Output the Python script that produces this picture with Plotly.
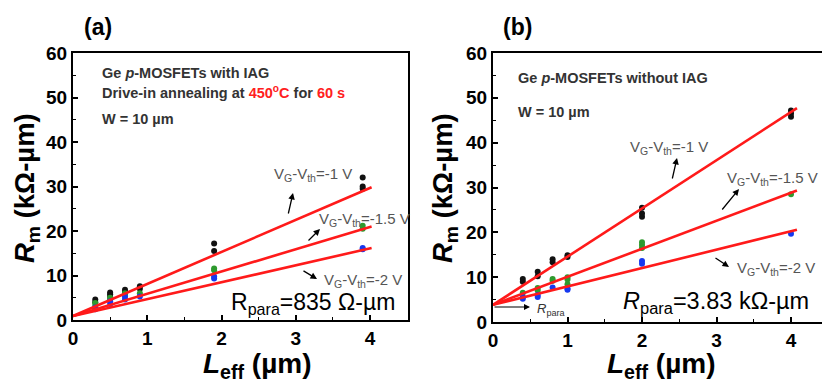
import plotly.graph_objects as go

W, H = 822, 383

# ---------------- data ----------------
# panel (a): with IAG
a_leff = [0.3, 0.5, 0.7, 0.9, 1.9, 3.9]
a_vm1 = [[4.0, 4.6], [5.2, 5.8, 6.2], [6.2, 6.8], [7.0, 7.6], [15.5, 17.2], [29.5, 30.0, 32.0]]
a_vm15 = [[3.2, 3.8], [4.6, 5.0], [5.6, 6.0], [6.0], [11.2, 11.6], [20.5, 21.2]]
a_vm2 = [[2.4, 2.8], [3.6, 4.2], [4.6, 5.2], [5.3], [9.3, 9.8], [15.9, 16.2]]
a_fit_x = [0.0, 4.02]
a_intercept = 0.9
a_slopes = [7.2, 5.0, 3.8]

# panel (b): without IAG
b_leff = [0.4, 0.6, 0.8, 1.0, 2.0, 4.0]
b_vm1 = [[9.0, 9.6], [10.2, 11.2], [13.3, 14.0], [14.5, 14.9], [23.5, 24.2, 25.5], [45.8, 46.5, 47.2]]
b_vm15 = [[6.5], [7.0, 7.6], [9.2, 9.6], [8.4, 9.5, 10.0], [16.5, 17.2, 17.8], [28.5]]
b_vm2 = [[5.2, 5.6], [5.6, 6.0], [7.7], [7.2, 7.5], [13.0, 13.6], [19.7]]
b_fit_x = [0.0, 4.08]
b_intercept = 3.83
b_slopes = [10.75, 6.25, 4.1]

series_colors = ["#111111", "#2e9a2e", "#1638f0"]
line_color = "#ff1a1a"

fig = go.Figure()


def flat(xs, groups):
    X, Y = [], []
    for x, g in zip(xs, groups):
        for y in g:
            X.append(x)
            Y.append(y)
    return X, Y


def add_panel(xs, groups, fit_x, b0, slopes, xa, ya):
    for g, c in zip(groups, series_colors):
        X, Y = flat(xs, g)
        fig.add_trace(go.Scatter(x=X, y=Y, mode="markers", xaxis=xa, yaxis=ya,
                                 marker=dict(color=c, size=6), showlegend=False))
    for s in slopes:
        fig.add_trace(go.Scatter(x=fit_x, y=[b0 + s * x for x in fit_x], mode="lines",
                                 xaxis=xa, yaxis=ya, line=dict(color=line_color, width=2.6),
                                 showlegend=False))


add_panel(a_leff, [a_vm1, a_vm15, a_vm2], a_fit_x, a_intercept, a_slopes, "x", "y")
add_panel(b_leff, [b_vm1, b_vm15, b_vm2], b_fit_x, b_intercept, b_slopes, "x2", "y2")

tickfont = dict(family="Arial, Liberation Sans", size=19, color="black", weight="bold")


def axis(domain, rng, tickvals, mdt, mirror, anchor):
    return dict(domain=domain, range=rng, tickvals=tickvals, automargin=False,
                showline=True, linecolor="black", linewidth=2, ticks="inside", ticklen=5,
                tickwidth=1.5, tickcolor="black", tickfont=tickfont, showgrid=False,
                zeroline=False, mirror=mirror, anchor=anchor,
                minor=dict(ticks="inside", ticklen=3, tickwidth=1.2, tickcolor="black",
                           dtick=mdt, showgrid=False))


y_dom = [(H - 320) / H, (H - 53) / H]
y2_dom = [(H - 322) / H, (H - 53) / H]

fig.update_layout(
    width=W, height=H, margin=dict(l=0, r=0, t=0, b=0, pad=0), autosize=False,
    paper_bgcolor="white", plot_bgcolor="white", template="none",
    xaxis=axis([73 / W, 408 / W], [0, 4.51], [0, 1, 2, 3, 4], 0.5, True, "y"),
    yaxis=axis(y_dom, [0, 60], [0, 10, 20, 30, 40, 50, 60], 5, True, "x"),
    xaxis2=axis([493 / W, 1.0], [0, 329 / 74.5], [0, 1, 2, 3, 4], 0.5, True, "y2"),
    yaxis2=axis(y2_dom, [0, 60], [0, 10, 20, 30, 40, 50, 60], 5, False, "x2"),
)

ann = []


def pp(x, y):
    return x / W, 1 - y / H


def ptext(x, y, text, size, color="black", bold=False, xanchor="center", angle=0,
          family="Arial, Liberation Sans"):
    px, py = pp(x, y)
    ann.append(dict(x=px, y=py, xref="paper", yref="paper", text=text, showarrow=False,
                    xanchor=xanchor, yanchor="middle", textangle=angle, borderpad=0,
                    font=dict(family=family, size=size, color=color,
                              weight="bold" if bold else "normal")))


def parrow(x0, y0, x1, y1, width=1.3):
    # tail (x0,y0) -> head (x1,y1) in pixels
    px, py = pp(x1, y1)
    ann.append(dict(x=px, y=py, xref="paper", yref="paper", ax=x0 - x1, ay=y0 - y1,
                    axref="pixel", ayref="pixel", text="", showarrow=True, arrowhead=2,
                    arrowsize=1.0, arrowwidth=width, arrowcolor="black"))


# panel labels
ptext(98, 27, "(a)", 23, bold=True)
ptext(517, 27, "(b)", 23, bold=True)

# axis titles
title_y = "<i>R</i><sub>m</sub> (kΩ-µm)"
title_x = "<i>L</i><sub>eff</sub> (µm)"
ptext(26, 188, title_y, 27.5, bold=True, angle=-90)
ptext(444, 188, title_y, 27.5, bold=True, angle=-90)
ptext(257, 365, title_x, 28, bold=True)
ptext(661, 365, title_x, 28, bold=True)

# panel (a) notes
dark = "#333333"
ptext(101, 73, "Ge <i>p</i>-MOSFETs with IAG", 14.5, color=dark, bold=True, xanchor="left")
ptext(101, 92, "Drive-in annealing at <span style='color:#ff2020'>450<sup>o</sup>C</span> for "
               "<span style='color:#ff2020'>60 s</span>", 14.5, color=dark, bold=True, xanchor="left")
ptext(101, 119, "W = 10 µm", 14.5, color=dark, bold=True, xanchor="left")

gray = "#555555"
vtxt = "V<sub>G</sub>-V<sub>th</sub>=%s V"
ptext(273, 174, vtxt % "-1", 15, color=gray, xanchor="left")
ptext(318, 219, vtxt % "-1.5", 15, color=gray, xanchor="left")
ptext(323, 280, vtxt % "-2", 15, color=gray, xanchor="left")
parrow(288, 215, 293, 193)
parrow(307, 242, 320, 229)
parrow(302, 270, 317, 279)
ptext(230, 303, "R<sub>para</sub>=835 Ω-µm", 23, xanchor="left")

# panel (b) notes
ptext(517, 78, "Ge <i>p</i>-MOSFETs without IAG", 14.5, color=dark, bold=True, xanchor="left")
ptext(517, 112, "W = 10 µm", 14.5, color=dark, bold=True, xanchor="left")
ptext(629, 148, vtxt % "-1", 15, color=gray, xanchor="left")
ptext(726, 178, vtxt % "-1.5", 15, color=gray, xanchor="left")
ptext(736, 268, vtxt % "-2", 15, color=gray, xanchor="left")
parrow(672, 180, 677, 158)
parrow(721, 211, 739, 189)
parrow(714, 257, 729, 267)
parrow(493, 307, 530, 307, width=1.2)
ptext(536, 309, "<i>R</i><sub>para</sub>", 13, color=dark, xanchor="left")
ptext(622, 302, "<i>R</i><sub>para</sub>=3.83 kΩ-µm", 23.5, xanchor="left")

fig.update_layout(annotations=ann)
fig.write_html("out.html", post_script="document.body.style.margin='0';",
               config={"displayModeBar": False})
